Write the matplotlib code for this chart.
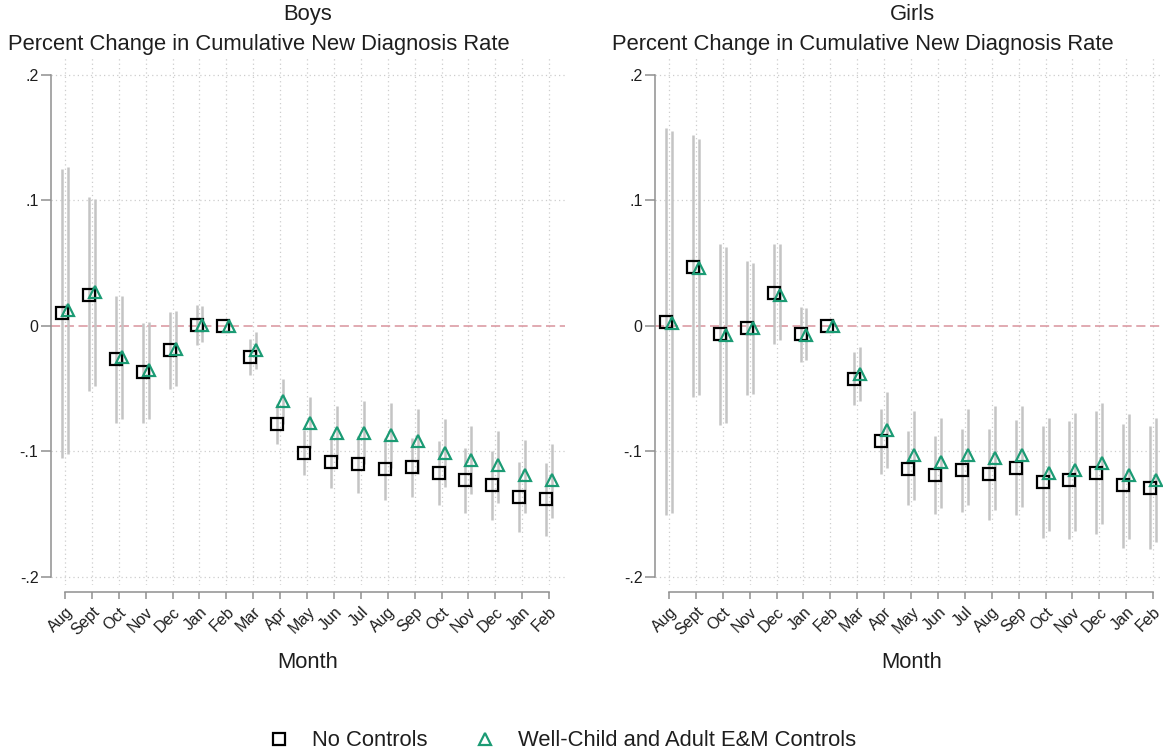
import matplotlib
matplotlib.use("Agg")
import matplotlib.pyplot as plt
from matplotlib.lines import Line2D
import numpy as np

plt.rcParams['font.family'] = ['Liberation Sans', 'DejaVu Sans']

months = ["Aug", "Sept", "Oct", "Nov", "Dec", "Jan", "Feb", "Mar", "Apr", "May",
          "Jun", "Jul", "Aug", "Sep", "Oct", "Nov", "Dec", "Jan", "Feb"]
ytick_vals = [-0.2, -0.1, 0, 0.1, 0.2]
ytick_labels = ["-.2", "-.1", "0", ".1", ".2"]

# Boys: no controls
boys_nc = [0.010, 0.025, -0.026, -0.037, -0.019, 0.001, 0.0, -0.025, -0.078, -0.101,
           -0.108, -0.110, -0.114, -0.112, -0.117, -0.123, -0.127, -0.136, -0.138]
boys_nc_lo = [-0.105, -0.052, -0.077, -0.077, -0.050, -0.015, 0.0, -0.039, -0.094, -0.119,
              -0.129, -0.133, -0.139, -0.136, -0.143, -0.149, -0.155, -0.164, -0.167]
boys_nc_hi = [0.125, 0.103, 0.024, 0.002, 0.011, 0.017, 0.0, -0.010, -0.062, -0.083,
              -0.088, -0.088, -0.089, -0.089, -0.092, -0.097, -0.100, -0.108, -0.109]
# Boys: well-child and adult E&M controls
boys_wc = [0.013, 0.027, -0.025, -0.035, -0.018, 0.001, 0.0, -0.019, -0.060, -0.077,
           -0.085, -0.085, -0.087, -0.092, -0.101, -0.107, -0.111, -0.119, -0.123]
boys_wc_lo = [-0.102, -0.048, -0.074, -0.074, -0.048, -0.013, 0.0, -0.034, -0.078, -0.097,
              -0.106, -0.110, -0.113, -0.118, -0.128, -0.134, -0.141, -0.149, -0.153]
boys_wc_hi = [0.127, 0.101, 0.024, 0.003, 0.012, 0.016, 0.0, -0.005, -0.042, -0.057,
              -0.064, -0.060, -0.061, -0.066, -0.074, -0.080, -0.084, -0.091, -0.094]

# Girls: no controls
girls_nc = [0.003, 0.047, -0.0065, -0.002, 0.026, -0.0065, 0.0, -0.042, -0.092, -0.114,
            -0.119, -0.115, -0.118, -0.113, -0.124, -0.123, -0.117, -0.127, -0.129]
girls_nc_lo = [-0.151, -0.057, -0.079, -0.055, -0.014, -0.029, 0.0, -0.063, -0.118, -0.143,
               -0.150, -0.148, -0.155, -0.151, -0.169, -0.170, -0.166, -0.177, -0.178]
girls_nc_hi = [0.158, 0.152, 0.065, 0.052, 0.065, 0.015, 0.0, -0.021, -0.066, -0.084,
               -0.088, -0.082, -0.082, -0.075, -0.080, -0.076, -0.068, -0.078, -0.080]
# Girls: well-child and adult E&M controls
girls_wc = [0.002, 0.046, -0.007, -0.002, 0.025, -0.007, 0.0, -0.038, -0.083, -0.103,
            -0.108, -0.103, -0.105, -0.103, -0.117, -0.115, -0.109, -0.119, -0.123]
girls_wc_lo = [-0.149, -0.055, -0.077, -0.054, -0.011, -0.027, 0.0, -0.060, -0.113, -0.139,
               -0.145, -0.143, -0.147, -0.144, -0.163, -0.163, -0.158, -0.170, -0.172]
girls_wc_hi = [0.155, 0.149, 0.063, 0.050, 0.065, 0.014, 0.0, -0.017, -0.053, -0.068,
               -0.073, -0.066, -0.064, -0.064, -0.073, -0.069, -0.061, -0.070, -0.073]

GREEN = '#1b9b74'
CI_GRAY = '#c4c4c4'
GRID = '#cdcdcd'
AXIS = '#8f8f8f'
TEXT = '#1e1e1e'
BIG = 15.8
DX = 0.11


def draw_panel(ax, title, nc, nc_lo, nc_hi, wc, wc_lo, wc_hi):
    x = np.arange(len(months))
    ax.set_xlim(-0.52, 18.59)
    ax.set_ylim(-0.2064, 0.2143)

    # axis lines: y spans -.2..2, x axis sits a little below the plot region
    for s in ['top', 'right']:
        ax.spines[s].set_visible(False)
    ax.spines['bottom'].set_position(('outward', 5))
    ax.spines['left'].set_bounds(-0.2, 0.2)
    ax.spines['bottom'].set_bounds(0, 18)
    for s in ['left', 'bottom']:
        ax.spines[s].set_color(AXIS)
        ax.spines[s].set_linewidth(1.1)

    # dotted grid
    for v in [-0.2, -0.1, 0.1, 0.2]:
        ax.axhline(v, color=GRID, lw=0.9, ls=(0, (1, 2.5)), zorder=0)
    for xi in x:
        ax.axvline(xi, color=GRID, lw=0.9, ls=(0, (1, 2.5)), zorder=0)
    ax.axhline(0, color='#d9939d', lw=1.1, ls=(0, (6, 3)), zorder=1)

    # confidence intervals
    ax.vlines(x - DX, nc_lo, nc_hi, color=CI_GRAY, lw=1.8, zorder=2)
    ax.vlines(x + DX, wc_lo, wc_hi, color=CI_GRAY, lw=1.8, zorder=2)

    ax.plot(x - DX, nc, ls='none', marker='s', ms=8, mfc='none', mec='black',
            mew=1.6, zorder=4)
    ax.plot(x + DX, wc, ls='none', marker='^', ms=8, mfc='none', mec=GREEN,
            mew=1.6, zorder=4)

    ax.set_xticks(x)
    ax.set_xticklabels(months, rotation=45, ha='right', rotation_mode='anchor',
                       fontsize=11.5, color=TEXT)
    ax.set_yticks(ytick_vals)
    ax.set_yticklabels(ytick_labels, fontsize=11.5, color=TEXT)
    ax.tick_params(axis='x', direction='out', length=5, width=1.1, color=AXIS, pad=4)
    ax.tick_params(axis='y', direction='out', length=7, width=1.1, color=AXIS, pad=2)

    ax.set_xlabel("Month", fontsize=BIG, color=TEXT, labelpad=10)
    ax.text(0.5, 1.081, title, transform=ax.transAxes, ha='center', va='center',
            fontsize=BIG, color=TEXT)
    ax.text(-0.084, 1.023, "Percent Change in Cumulative New Diagnosis Rate",
            transform=ax.transAxes, ha='left', va='center', fontsize=BIG, color=TEXT)


fig = plt.figure(figsize=(11.63, 7.54), dpi=100)
ax1 = fig.add_axes([51 / 1163, 169 / 754, 514 / 1163, 528 / 754])
ax2 = fig.add_axes([655 / 1163, 169 / 754, 514 / 1163, 528 / 754])

draw_panel(ax1, "Boys", boys_nc, boys_nc_lo, boys_nc_hi, boys_wc, boys_wc_lo, boys_wc_hi)
draw_panel(ax2, "Girls", girls_nc, girls_nc_lo, girls_nc_hi, girls_wc, girls_wc_lo, girls_wc_hi)

handles = [
    Line2D([], [], ls='none', marker='s', ms=8, mfc='none', mec='black', mew=1.6),
    Line2D([], [], ls='none', marker='^', ms=8, mfc='none', mec=GREEN, mew=1.6),
]
fig.legend(handles, ["No Controls", "Well-Child and Adult E&M Controls"],
           loc='center', bbox_to_anchor=(560 / 1163, 1 - 741 / 754), ncol=2,
           frameon=False, fontsize=BIG, handlelength=1.4, handletextpad=0.8,
           columnspacing=1.9, labelcolor=TEXT)

fig.savefig("out.png", dpi=100)
